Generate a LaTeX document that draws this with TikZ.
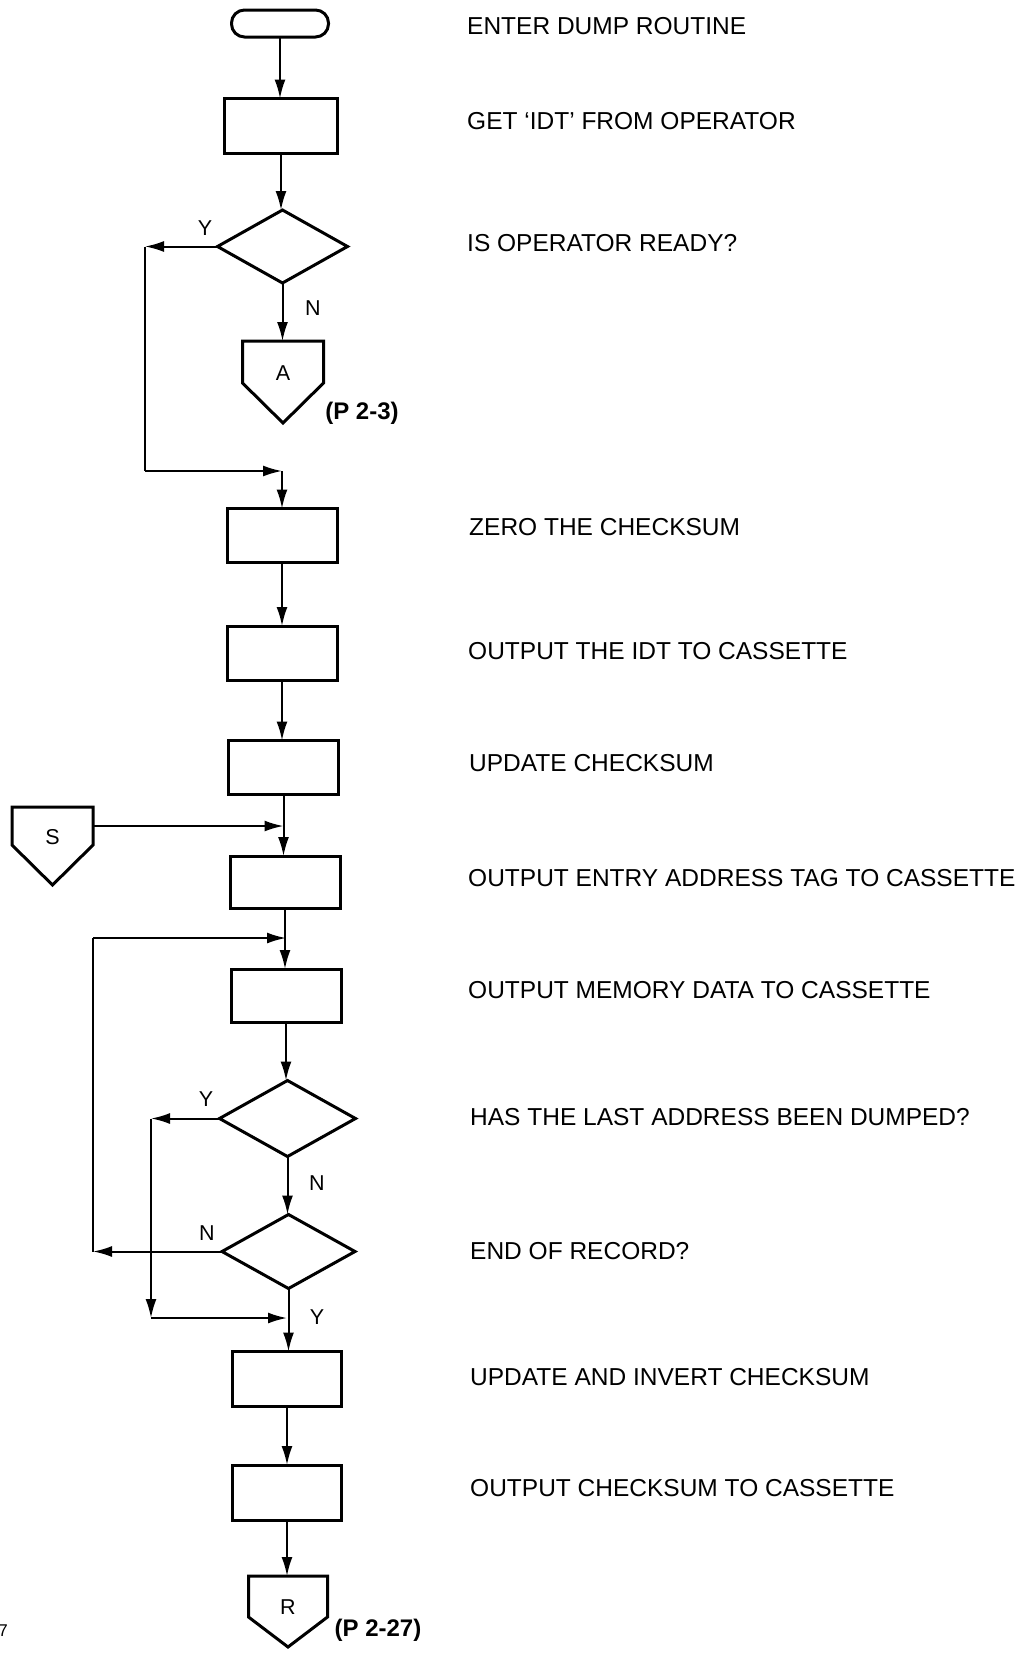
\documentclass[tikz,border=0pt]{standalone}
\usepackage{fontspec}
\setmainfont{Liberation Sans}
\usetikzlibrary{shapes.geometric,arrows.meta}
\newcommand\offpg[7]{% name, cx, top, width, side, drop, label
  \node[inner sep=0pt, outer sep=0pt, minimum width=#4pt, minimum height=#5pt, anchor=north,
        label={[yn, yshift=-11pt]center:#7}] (#1) at (#2,#3) {};
  \draw[line width=3pt, line join=miter] (#1.south west) -- (#1.north west) -- (#1.north east) -- (#1.south east) -- ([yshift=-#6pt]#1.south) -- cycle;
}
\begin{document}
\begin{tikzpicture}[x=1pt,y=-1pt,
  shp/.style={draw=black, line width=3pt, inner sep=0pt, outer sep=0pt},
  procbox/.style={shp, rectangle, minimum width=110pt, minimum height=54pt},
  term/.style={shp, rectangle, rounded corners=13pt, minimum width=97pt, minimum height=27pt},
  decision/.style={shp, diamond, minimum width=133pt, minimum height=74pt},
  conn/.style={line width=2pt},
  arr/.style={conn, -{Latex[length=19pt,width=11pt]}},
  desc/.style={anchor=west, inner sep=0pt, font=\fontsize{24.5}{28}\selectfont},
  desctop/.style={desc},
  yn/.style={inner sep=0pt, font=\fontsize{21.5}{24}\selectfont},
  pref/.style={inner sep=0pt, font=\fontsize{24}{28}\selectfont\bfseries},
]
\useasboundingbox (0,0) rectangle (1026,1657);
% shapes
\node[term] (t0) at (280,23.5) {};
\node[procbox, minimum width=113pt, minimum height=55pt] (b1) at (281,126) {};
\node[decision, minimum width=130pt, minimum height=73pt] (d1) at (282.5,246.5) {};
\offpg{A}{283}{341}{81}{42}{40}{A}
\node[procbox] (b2) at (282,535.5) {};
\node[procbox] (b3) at (282,653) {};
\node[procbox] (b4) at (283.5,767.5) {};
\offpg{S}{52.5}{807}{81}{38}{40}{S}
\node[procbox, minimum width=110pt, minimum height=52pt] (b5) at (285,882) {};
\node[procbox, minimum width=110pt, minimum height=53pt] (b6) at (286,995.5) {};
\node[decision, minimum width=136pt, minimum height=76pt] (d2) at (287.5,1118.5) {};
\node[decision] (d3) at (288.5,1251.5) {};
\node[procbox, minimum width=109pt, minimum height=55pt] (b7) at (287,1379) {};
\node[procbox, minimum width=109pt, minimum height=55pt] (b8) at (287,1492.5) {};
\offpg{R}{288}{1576}{79}{41}{30}{R}
% corner coordinates
\coordinate (c1) at (145,246.5);
\coordinate (c2) at (145,471);
\coordinate (j1) at (b2.north |- c2);
\coordinate (j2) at (b4.south |- S.east);
\coordinate (c3) at (93,1251.5);
\coordinate (c4) at (93,938);
\coordinate (j3) at (b6.north |- c4);
\coordinate (c5) at (151,1118.5);
\coordinate (c6) at (151,1318);
\coordinate (j4) at (b7.north |- c6);
% connectors
\draw[arr] (t0.south) -- (t0.south |- b1.north);
\draw[arr] (b1.south) -- (b1.south |- d1.north);
\draw[arr] (d1.south) -- (d1.south |- A.north);
\draw[arr] (d1.west) -- (c1);
\draw[conn] (c1) -- (c2);
\draw[arr] (c2) -- (j1);
\draw[arr] (j1) -- (b2.north);
\draw[arr] (b2.south) -- (b2.south |- b3.north);
\draw[arr] (b3.south) -- (b3.south |- b4.north);
\draw[arr] (S.east) -- (j2);
\draw[arr] (b4.south) -- (b4.south |- b5.north);
\draw[arr] (b5.south) -- (b5.south |- b6.north);
\draw[arr] (b6.south) -- (b6.south |- d2.north);
\draw[arr] (d2.south) -- (d2.south |- d3.north);
\draw[arr] (d3.south) -- (d3.south |- b7.north);
\draw[arr] (b7.south) -- (b7.south |- b8.north);
\draw[arr] (b8.south) -- (b8.south |- R.north);
\draw[arr] (d3.west) -- (c3);
\draw[conn] (c3) -- (c4);
\draw[arr] (c4) -- (j3);
\draw[arr] (d2.west) -- (c5);
\draw[arr] (c5) -- (c6);
\draw[arr] (c6) -- (j4);
% branch labels
\node[yn] (y1) at (205,228) {Y};
\node[yn] (n1) at (313,308) {N};
\node[yn] (y2) at (206,1099) {Y};
\node[yn] (n2) at (317,1183) {N};
\node[yn] (n3) at (207,1233) {N};
\node[yn] (y3) at (317,1317) {Y};
\node[pref] (p1) at (362,413) {(P 2-3)};
\node[pref] (p2) at (378,1630) {(P 2-27)};
% descriptions
\node[desctop] (e1) at (467,26) {ENTER DUMP ROUTINE};
\node[desctop] (e2) at (467,121.5) {GET ‘IDT’ FROM OPERATOR};
\node[desctop] (e3) at (467,243) {IS OPERATOR READY?};
\node[desc] (e4) at (469,527) {ZERO THE CHECKSUM};
\node[desc] (e5) at (468,651) {OUTPUT THE IDT TO CASSETTE};
\node[desc] (e6) at (469,763) {UPDATE CHECKSUM};
\node[desc] (e7) at (468,878) {OUTPUT ENTRY ADDRESS TAG TO CASSETTE};
\node[desc] (e8) at (468,990) {OUTPUT MEMORY DATA TO CASSETTE};
\node[desc] (e9) at (470,1117) {HAS THE LAST ADDRESS BEEN DUMPED?};
\node[desc] (e10) at (470,1251) {END OF RECORD?};
\node[desc] (e11) at (470,1377) {UPDATE AND INVERT CHECKSUM};
\node[desc] (e12) at (470,1488) {OUTPUT CHECKSUM TO CASSETTE};
\node[anchor=east, inner sep=0pt, font=\fontsize{17}{20}\selectfont] (pg) at (8,1631) {7};
\end{tikzpicture}
\end{document}
